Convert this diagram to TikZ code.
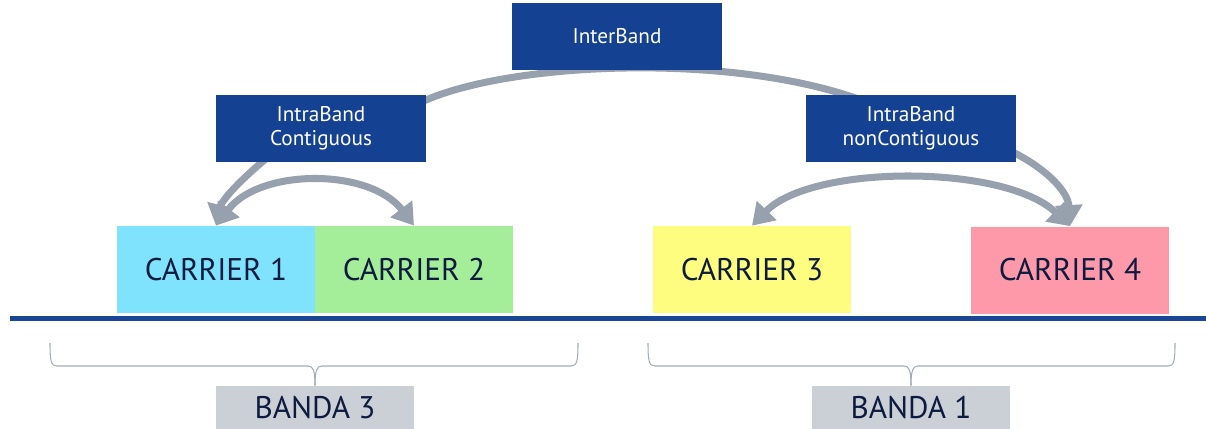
\documentclass[tikz,border=0pt]{standalone}
\usepackage{fontspec}
\newfontfamily\ptsfont{PT Sans}
\usetikzlibrary{arrows.meta,calc}
\definecolor{boxblue}{RGB}{20,65,145}
\definecolor{lineblue}{RGB}{26,71,149}
\definecolor{cone}{RGB}{128,227,253}
\definecolor{ctwo}{RGB}{165,238,153}
\definecolor{cthree}{RGB}{254,253,128}
\definecolor{cfour}{RGB}{254,153,169}
\definecolor{bandagray}{RGB}{203,207,214}
\definecolor{arrowgray}{RGB}{151,160,173}
\definecolor{bracegray}{RGB}{163,172,187}
\definecolor{darktext}{RGB}{13,27,62}
\pgfdeclarelayer{bg}
\pgfsetlayers{bg,main}
\tikzset{
  catbox/.style={fill=boxblue, text=white, inner sep=0pt, align=center,
    minimum width=210*0.02cm, minimum height=67*0.02cm,
    font=\ptsfont\fontsize{12.1}{13.6}\selectfont},
  carrierbox/.style={inner sep=0pt, text=darktext,
    minimum width=198*0.02cm, minimum height=87*0.02cm,
    font=\ptsfont\fontsize{17.8}{21}\selectfont},
  bandabox/.style={fill=bandagray, inner sep=0pt, text=darktext,
    minimum width=198*0.02cm, minimum height=43*0.02cm,
    font=\ptsfont\fontsize{17.8}{21}\selectfont},
  grayarrow/.style={draw=arrowgray, line width=4pt,
    -{Triangle[length=12pt,width=15pt]}},
  graydouble/.style={draw=arrowgray, line width=4pt,
    {Triangle[length=12pt,width=15pt]}-{Triangle[length=12pt,width=15pt]}},
  bracestyle/.style={draw=bracegray, line width=0.6pt},
}
\begin{document}
\begin{tikzpicture}[x=0.02cm, y=-0.02cm]
\useasboundingbox (0,0) rectangle (1206,429);
% boxes
\node[catbox] (inter) at (617,36.5) {InterBand};
\node[catbox] (ibc) at (321,128.5) {IntraBand\\Contiguous};
\node[catbox] (ibn) at (911,128.5) {IntraBand\\nonContiguous};
\node[carrierbox, fill=cone] (c1) at (216,269.5) {CARRIER 1};
\node[carrierbox, fill=ctwo] (c2) at (414,269.5) {CARRIER 2};
\node[carrierbox, fill=cthree] (c3) at (752,269.5) {CARRIER 3};
\node[carrierbox, fill=cfour] (c4) at (1070,270) {CARRIER 4};
\node[bandabox] (b3) at (315,407.5) {BANDA 3};
\node[bandabox] (b1) at (911,407.5) {BANDA 1};
% baseline
\draw[draw=lineblue, line width=2.83pt] (10,318.5) -- (1206,318.5);
% arrows behind boxes
\begin{pgfonlayer}{bg}
\draw[draw=arrowgray, line width=4pt]
  ($(ibc.north)+(79,20)$) .. controls (470,60) and (760,45) .. ($(ibn.north)+(-16,20)$);
\draw[grayarrow] ($(ibc.south)+(-52,-6)$) .. controls (240,180) and (222,200) .. (c1.north);
\draw[graydouble] (c1.north) .. controls (260,168) and (370,168) .. (c2.north);
\draw[grayarrow] ($(ibn.south)+(94,-14)$) .. controls (1042,165) and (1068,190) .. (c4.north);
\draw[graydouble] (c3.north) .. controls (812,164) and (1005,164) .. (c4.north);
\end{pgfonlayer}
% braces
\draw[bracestyle] (50,343) .. controls (50,361) and (51,366) .. (57,366) -- (308,366)
  .. controls (313,366) and (315,370) .. (b3.north);
\draw[bracestyle] (578,343) .. controls (578,361) and (577,366) .. (571,366) -- (322,366)
  .. controls (317,366) and (315,370) .. (b3.north);
\draw[bracestyle] (648,343) .. controls (648,361) and (649,366) .. (655,366) -- (904,366)
  .. controls (909,366) and (911,370) .. (b1.north);
\draw[bracestyle] (1175,343) .. controls (1175,361) and (1174,366) .. (1168,366) -- (918,366)
  .. controls (913,366) and (911,370) .. (b1.north);
\end{tikzpicture}
\end{document}
